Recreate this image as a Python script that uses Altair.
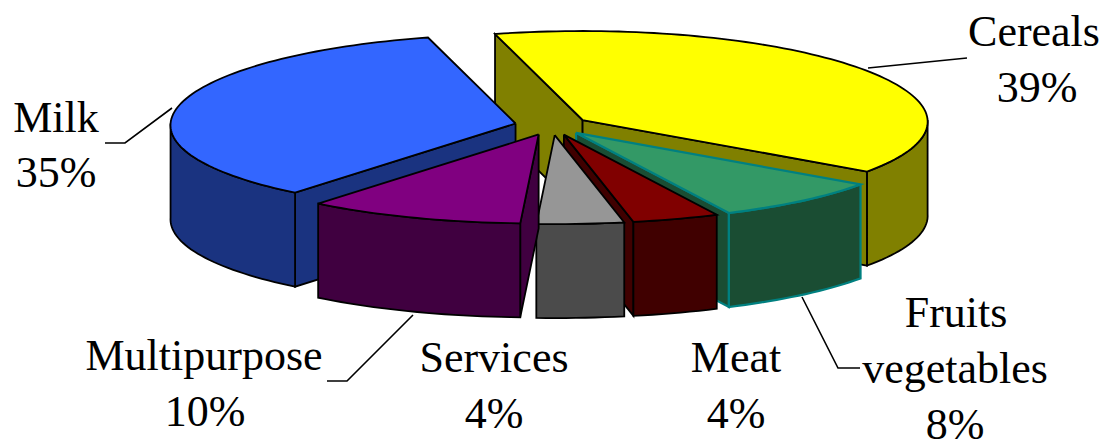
import math
import altair as alt
import pandas as pd

categories = ["Cereals", "Fruits vegetables", "Meat", "Services", "Multipurpose", "Milk"]
values = [39, 8, 4, 4, 10, 35]
top_colors = ["#FFFF00", "#339966", "#800000", "#969696", "#800080", "#3366FF"]
side_colors = ["#808000", "#1A4D33", "#400000", "#4B4B4B", "#400040", "#1A3380"]
edge_colors = ["#000000", "#008080", "#000000", "#000000", "#000000", "#000000"]

label_lines = [
    ("Cereals", 1034, 46), ("39%", 1037, 102),
    ("Milk", 56, 132), ("35%", 56, 187),
    ("Multipurpose", 204, 370), ("10%", 205, 426),
    ("Services", 494, 372), ("4%", 494, 428),
    ("Meat", 736, 372), ("4%", 736, 428),
    ("Fruits", 956, 327), ("vegetables", 955, 383), ("8%", 955, 439),
]
leaders = [
    [(868, 68), (967, 58)],
    [(172, 108), (125, 143), (105, 143)],
    [(413, 315), (347, 381), (327, 381)],
    [(802, 297), (838, 368), (860, 368)],
]
paint_order = ["Cereals", "Milk", "Fruits vegetables", "Meat", "Services", "Multipurpose"]
# which cut faces of each slice can be seen: start edge, end edge
visible_cuts = {
    "Cereals": (True, True),
    "Fruits vegetables": (False, True),
    "Meat": (False, True),
    "Services": (False, False),
    "Multipurpose": (True, False),
    "Milk": (True, False),
}

# 3-D pie geometry
A, B, DEPTH = 345, 89, 94
PERSPECTIVE = 0.02
BASE = (552, 125.5)
EXPLODE = 0.108
START = 105.0
W, H = 1091, 434
xs = alt.Scale(domain=[8, 8 + W], range=[0, W], nice=False, zero=False)
ys = alt.Scale(domain=[8, 8 + H], range=[0, H], nice=False, zero=False)


def rim(cx, cy, t0, t1):
    n = max(1, int(abs(t1 - t0) / 1.5))
    out = []
    for i in range(n + 1):
        t = math.radians(t0 + (t1 - t0) * i / n)
        out.append((cx + A * math.cos(t) * (1 - PERSPECTIVE * math.sin(t)), cy - B * math.sin(t)))
    return out


def cut_face(cx, cy, t):
    p = rim(cx, cy, t, t)[0]
    return [(cx, cy), p, (p[0], p[1] + DEPTH), (cx, cy + DEPTH)]


faces = {}
angle = START
total = sum(values)
for i, (cat, v) in enumerate(zip(categories, values)):
    t0, t1 = angle, angle - v / total * 360
    angle = t1
    mid = math.radians((t0 + t1) / 2)
    cx = BASE[0] + EXPLODE * A * math.cos(mid)
    cy = BASE[1] - EXPLODE * B * math.sin(mid)
    parts = []
    show0, show1 = visible_cuts[cat]
    if show0:
        parts.append((cut_face(cx, cy, t0), side_colors[i]))
    if show1:
        parts.append((cut_face(cx, cy, t1), side_colors[i]))
    # visible outer wall: lower half of the ellipse (t between -180 and 0)
    a, b = max(t1, -180), min(t0, 0)
    if a < b:
        up = rim(cx, cy, b, a)
        parts.append((up + [(x, y + DEPTH) for x, y in reversed(up)], side_colors[i]))
    parts.append(([(cx, cy)] + rim(cx, cy, t0, t1), top_colors[i]))
    faces[cat] = (parts, edge_colors[i])

layers = []
for cat in paint_order:
    parts, edge = faces[cat]
    for pts, fill in parts:
        closed = pts + [pts[0]]
        df = pd.DataFrame({"x": [p[0] for p in closed], "y": [p[1] for p in closed],
                           "o": list(range(len(closed)))})
        layers.append(
            alt.Chart(df).mark_line(fill=fill, stroke=edge, strokeWidth=2.2 if edge != "#000000" else 1.8,
                                    strokeJoin="miter", clip=False).encode(
                x=alt.X("x:Q", scale=xs, axis=None),
                y=alt.Y("y:Q", scale=ys, axis=None),
                order="o:Q",
            )
        )

for line in leaders:
    df = pd.DataFrame({"x": [p[0] for p in line], "y": [p[1] for p in line], "o": list(range(len(line)))})
    layers.append(
        alt.Chart(df).mark_line(color="black", strokeWidth=1.6).encode(
            x=alt.X("x:Q", scale=xs, axis=None),
            y=alt.Y("y:Q", scale=ys, axis=None),
            order="o:Q",
        )
    )

text_df = pd.DataFrame(label_lines, columns=["t", "x", "y"])
layers.append(
    alt.Chart(text_df).mark_text(font="Liberation Serif", fontSize=44, color="black",
                                 align="center", baseline="alphabetic").encode(
        x=alt.X("x:Q", scale=xs, axis=None),
        y=alt.Y("y:Q", scale=ys, axis=None),
        text="t:N",
    )
)

chart = alt.layer(*layers).properties(
    width=W, height=H, padding=0, autosize=alt.AutoSizeParams(type="none"),
    background="white",
).configure_view(stroke=None)
chart.save("out.html", embed_options={"renderer": "svg", "actions": False})
